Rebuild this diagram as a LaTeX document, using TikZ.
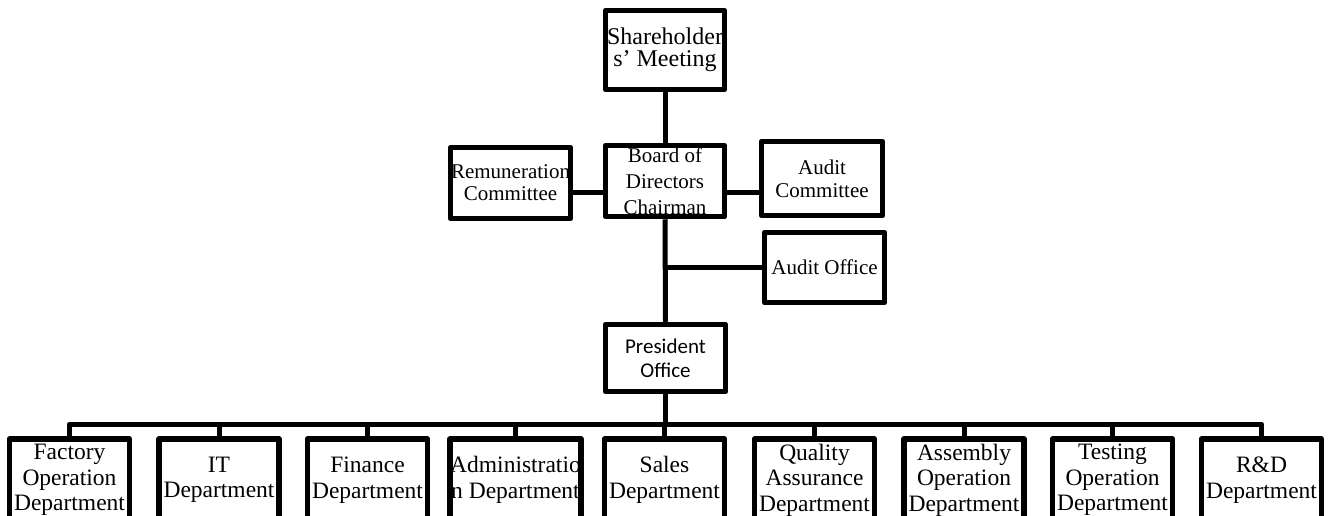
\documentclass[tikz,border=0pt]{standalone}
\usepackage{fontspec}
\setmainfont{Liberation Serif}
\newfontfamily\carlitofont{Carlito}
\begin{document}
\begin{tikzpicture}[x=1pt,y=-1pt,
  box/.style={draw=black, line width=5.5pt, line join=round, fill=white, inner sep=0pt, align=center},
  conn/.style={draw=black, line width=5pt},
  dept/.style={box, minimum width=120pt, minimum height=82pt, font=\fontsize{23.5}{25.5}\selectfont}]
\clip (0,0) rectangle (1334,515);
\fill[white] (0,0) rectangle (1334,515);

\node[box, minimum width=119pt, minimum height=79pt, font=\fontsize{24}{22}\selectfont] (share) at (665,50) {Shareholder\\s' Meeting};
\node[box, minimum width=119pt, minimum height=71pt, font=\fontsize{21}{26}\selectfont] (board) at (665,181) {Board of\\Directors\\Chairman};
\node[box, minimum width=120pt, minimum height=71pt, font=\fontsize{21}{22}\selectfont] (rem) at (510.5,183) {Remuneration\\Committee};
\node[box, minimum width=121pt, minimum height=74pt, font=\fontsize{21}{23}\selectfont] (acom) at (822,178.5) {Audit\\Committee};
\node[box, minimum width=120pt, minimum height=70pt, font=\fontsize{21}{23}\selectfont] (aoff) at (824.5,267.5) {Audit Office};
\node[box, minimum width=120pt, minimum height=67pt, font=\carlitofont\fontsize{21}{24}\selectfont] (pres) at (665.5,358) {President\\Office};

\node[dept] (fac) at (69.5,480) {Factory\\Operation\\Department};
\node[dept] (it) at (219,480) {IT\\Department};
\node[dept] (fin) at (367.5,480) {Finance\\Department};
\node[dept] (adm) at (515.5,480) {Administratio\\n Department};
\node[dept] (sal) at (664.5,480) {Sales\\Department};
\node[dept] (qa) at (814.5,480) {Quality\\Assurance\\Department};
\node[dept] (asm) at (964,480) {Assembly\\Operation\\Department};
\node[dept] (tst) at (1112.5,480) {Testing\\Operation\\Department};
\node[dept] (rd) at (1261.5,480) {R\&D\\Department};

\coordinate (y1) at (0,192);
\coordinate (y2) at (0,267);
\coordinate (bus) at (0,424);

\draw[conn] (share.south) -- (board.north);
\draw[conn] (board.south) -- (pres.north);
\draw[conn] (rem.east |- y1) -- (board.west |- y1);
\draw[conn] (board.east |- y1) -- (acom.west |- y1);
\draw[conn] (board.south |- y2) -- (aoff.west |- y2);
\draw[conn] (pres.south) -- (pres.south |- bus);
\draw[conn, line join=round] (fac.north) |- (rd.north |- bus) -- (rd.north);
\foreach \n in {it,fin,adm,sal,qa,asm,tst}
  \draw[conn] (\n.north) -- (\n.north |- bus);
\end{tikzpicture}
\end{document}
